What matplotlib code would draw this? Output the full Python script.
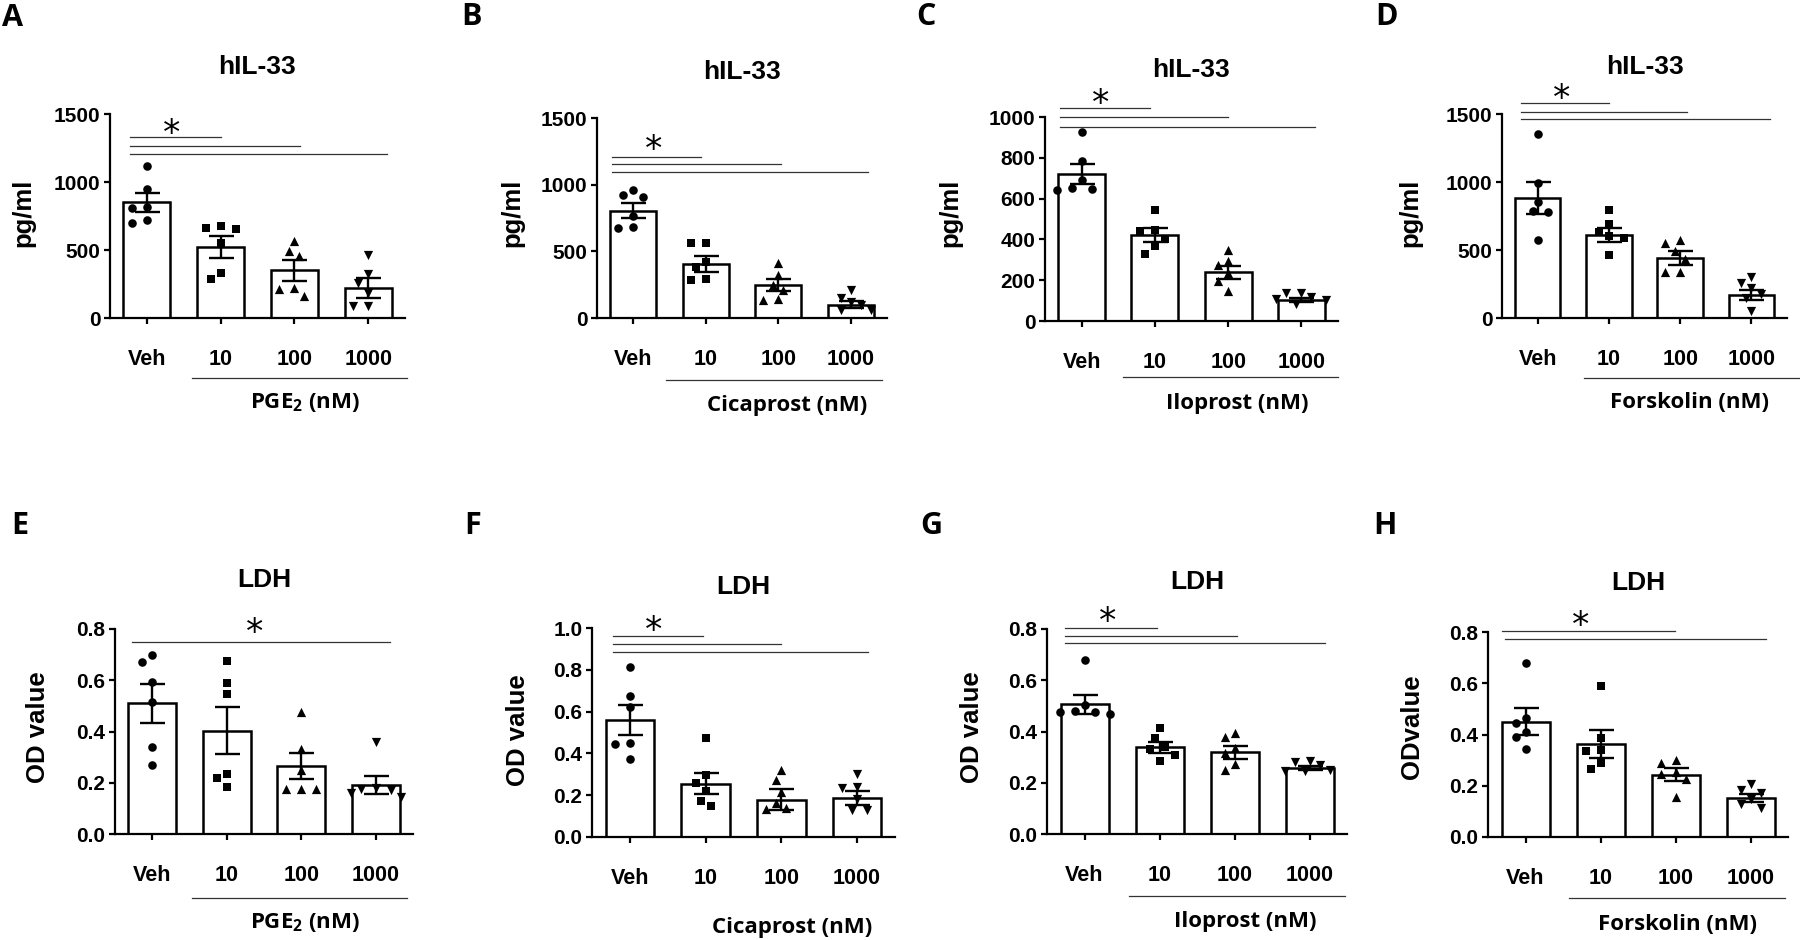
import numpy as np
import matplotlib
matplotlib.use('Agg')
import matplotlib.pyplot as plt
from matplotlib.lines import Line2D
from matplotlib.ticker import FormatStrFormatter

plt.rcParams['font.family'] = ['Liberation Sans', 'DejaVu Sans']
plt.rcParams['mathtext.fontset'] = 'custom'
plt.rcParams['mathtext.rm'] = 'Open Sans:bold'
plt.rcParams['mathtext.it'] = 'Open Sans:bold'
plt.rcParams['mathtext.bf'] = 'Open Sans:bold'

# ---------------- data ----------------
categories = ['Veh', '10', '100', '1000']
markers = ['o', 's', '^', 'v']

A_mean = [850, 522, 350, 220]
A_sem = [70, 78, 79, 72]
A_pts = [[1115, 950, 815, 810, 720, 700], [675, 660, 655, 550, 330, 285],
         [565, 490, 455, 220, 215, 165], [460, 320, 255, 185, 90, 85]]

B_mean = [805, 405, 245, 100]
B_sem = [57, 57, 45, 25]
B_pts = [[958, 925, 910, 762, 683, 675], [565, 560, 420, 380, 290, 285],
         [412, 325, 250, 212, 140, 135], [212, 150, 120, 95, 62, 60]]

C_mean = [720, 422, 239, 103]
C_sem = [50, 33, 31, 8]
C_pts = [[925, 785, 690, 650, 645, 640], [545, 445, 440, 400, 370, 330],
         [350, 295, 275, 235, 195, 145], [135, 135, 118, 110, 105, 85]]

D_mean = [881, 612, 440, 171]
D_sem = [117, 53, 50, 35]
D_pts = [[1350, 995, 855, 785, 780, 575], [795, 690, 630, 600, 585, 460],
         [570, 555, 495, 435, 335, 335], [300, 255, 220, 180, 145, 55]]

E_mean = [0.510, 0.403, 0.266, 0.192]
E_sem = [0.075, 0.092, 0.052, 0.035]
E_pts = [[0.70, 0.67, 0.595, 0.515, 0.34, 0.27], [0.675, 0.59, 0.545, 0.235, 0.22, 0.185],
         [0.475, 0.33, 0.25, 0.175, 0.175, 0.175], [0.36, 0.18, 0.175, 0.17, 0.16, 0.145]]

F_mean = [0.561, 0.255, 0.179, 0.188]
F_sem = [0.072, 0.05, 0.052, 0.033]
F_pts = [[0.815, 0.675, 0.62, 0.45, 0.445, 0.375], [0.475, 0.295, 0.26, 0.22, 0.17, 0.15],
         [0.32, 0.275, 0.215, 0.165, 0.14, 0.135], [0.30, 0.24, 0.235, 0.18, 0.13, 0.13]]

G_mean = [0.506, 0.338, 0.319, 0.257]
G_sem = [0.037, 0.02, 0.025, 0.008]
G_pts = [[0.68, 0.505, 0.48, 0.475, 0.47, 0.475], [0.415, 0.375, 0.34, 0.33, 0.31, 0.285],
         [0.395, 0.38, 0.335, 0.315, 0.275, 0.25], [0.285, 0.28, 0.27, 0.25, 0.245, 0.245]]

H_mean = [0.45, 0.363, 0.243, 0.152]
H_sem = [0.052, 0.055, 0.025, 0.015]
H_pts = [[0.68, 0.465, 0.445, 0.41, 0.39, 0.345], [0.59, 0.385, 0.34, 0.335, 0.29, 0.265],
         [0.30, 0.29, 0.255, 0.245, 0.225, 0.155], [0.205, 0.185, 0.17, 0.15, 0.13, 0.115]]

titles = ['hIL-33'] * 4 + ['LDH'] * 4
ylabels = ['pg/ml'] * 4 + ['OD value', 'OD value', 'OD value', 'ODvalue']
letters = ['A', 'B', 'C', 'D', 'E', 'F', 'G', 'H']
groups = ['PGE$_2$ (nM)', 'Cicaprost (nM)', 'Iloprost (nM)', 'Forskolin (nM)'] * 2

# ---------------- layout (pixels) ----------------
W, Hh = 1800, 940
fig = plt.figure(figsize=(18, 9.4), dpi=100)

def px(x, y):
    return x / W, 1 - y / Hh

panels = [
    dict(mean=A_mean, sem=A_sem, pts=A_pts, box=(110, 405, 114, 318), ylim=1500, yt=[0, 500, 1000, 1500], fmt='%d',
         letter=(13, 18), title_y=67, ylab=(23, 213), group=(305, 403), uline=(192, 407, 378),
         sig_x0=[-0.23] * 3, sig_x1=[1.0, 2.07, 3.25], sig_y=[1331, 1265, 1206], star=(0.34, 1404)),
    dict(mean=B_mean, sem=B_sem, pts=B_pts, box=(597, 887, 118, 318), ylim=1500, yt=[0, 500, 1000, 1500], fmt='%d',
         letter=(471, 17), title_y=72, ylab=(512, 213), group=(787, 406), uline=(666, 882, 380),
         sig_x0=[-0.3] * 3, sig_x1=[0.94, 2.04, 3.24], sig_y=[1208, 1155, 1095], star=(0.28, 1312)),
    dict(mean=C_mean, sem=C_sem, pts=C_pts, box=(1045, 1338, 117, 321), ylim=1000, yt=[0, 200, 400, 600, 800, 1000], fmt='%d',
         letter=(926, 17), title_y=70, ylab=(950, 213), group=(1237, 403), uline=(1123, 1338, 377),
         sig_x0=[-0.3] * 3, sig_x1=[0.93, 2.0, 3.18], sig_y=[1044, 1000, 951], star=(0.26, 1098)),
    dict(mean=D_mean, sem=D_sem, pts=D_pts, box=(1502, 1787, 114, 318), ylim=1500, yt=[0, 500, 1000, 1500], fmt='%d',
         letter=(1386, 17), title_y=67, ylab=(1410, 213), group=(1690, 403), uline=(1584, 1800, 378),
         sig_x0=[-0.23] * 3, sig_x1=[1.0, 2.09, 3.26], sig_y=[1581, 1515, 1463], star=(0.34, 1662)),
    dict(mean=E_mean, sem=E_sem, pts=E_pts, box=(115, 413, 629, 834), ylim=0.8, yt=[0, 0.2, 0.4, 0.6, 0.8], fmt='%.1f',
         letter=(20, 526), title_y=580, ylab=(38, 727), group=(305, 923), uline=(192, 407, 898),
         sig_x0=[-0.27], sig_x1=[3.19], sig_y=[0.75], star=(1.38, 0.81)),
    dict(mean=F_mean, sem=F_sem, pts=F_pts, box=(592, 895, 628, 837), ylim=1.0, yt=[0, 0.2, 0.4, 0.6, 0.8, 1.0], fmt='%.1f',
         letter=(473, 526), title_y=587, ylab=(518, 730), group=(792, 927), uline=None,
         sig_x0=[-0.22] * 3, sig_x1=[0.96, 2.0, 3.14], sig_y=[0.962, 0.923, 0.885], star=(0.32, 1.02)),
    dict(mean=G_mean, sem=G_sem, pts=G_pts, box=(1047, 1347, 629, 834), ylim=0.8, yt=[0, 0.2, 0.4, 0.6, 0.8], fmt='%.1f',
         letter=(931, 526), title_y=582, ylab=(972, 727), group=(1245, 922), uline=(1129, 1345, 896),
         sig_x0=[-0.26] * 3, sig_x1=[0.97, 2.03, 3.2], sig_y=[0.805, 0.773, 0.746], star=(0.31, 0.855)),
    dict(mean=H_mean, sem=H_sem, pts=H_pts, box=(1488, 1788, 632, 837), ylim=0.8, yt=[0, 0.2, 0.4, 0.6, 0.8], fmt='%.1f',
         letter=(1385, 526), title_y=583, ylab=(1412, 727), group=(1678, 925), uline=(1569, 1785, 898),
         sig_x0=[-0.31, -0.27], sig_x1=[1.99, 3.2], sig_y=[0.804, 0.773], star=(0.73, 0.85)),
]

SIG_COLOR = '#333333'
MARKER_SIZE = {'o': 38, 's': 30, '^': 44, 'v': 44}


def swarm_offsets(ax, xc, vals, dist=10.5, step=5.0):
    trans = ax.transData
    x0p = trans.transform((0, 0))[0]
    x1p = trans.transform((1, 0))[0]
    ppu = x1p - x0p
    placed = []
    offs = np.zeros(len(vals))
    order = np.argsort(vals)[::-1]
    for i in order:
        yp = trans.transform((xc, vals[i]))[1]
        chosen = 0.0
        for k in range(0, 30):
            cands = [0.0] if k == 0 else [-k * step, k * step]
            ok = None
            for c in cands:
                if all(np.hypot(c - pxo, yp - py) >= dist for pxo, py in placed):
                    ok = c
                    break
            if ok is not None:
                chosen = ok
                break
        placed.append((chosen, yp))
        offs[i] = chosen / ppu
    return offs


for i, p in enumerate(panels):
    l, r, t, b = p['box']
    ax = fig.add_axes([l / W, 1 - b / Hh, (r - l) / W, (b - t) / Hh])
    ax.set_xlim(-0.5, 3.5)
    ax.set_ylim(0, p['ylim'])
    for s in ['top', 'right']:
        ax.spines[s].set_visible(False)
    for s in ['left', 'bottom']:
        ax.spines[s].set_linewidth(1.6)
    ax.tick_params(axis='both', width=1.6, length=4, color='black')
    ax.tick_params(axis='y', labelsize=15, pad=3)
    ax.tick_params(axis='x', labelsize=15.5, pad=18)
    ax.set_yticks(p['yt'])
    ax.yaxis.set_major_formatter(FormatStrFormatter(p['fmt']))
    ax.set_xticks(range(4), categories)
    for lab in ax.get_xticklabels() + ax.get_yticklabels():
        lab.set_fontweight('bold')
    xs = np.arange(4)
    ax.bar(xs, p['mean'], width=0.64, color='white', edgecolor='black', linewidth=1.8, zorder=2)
    for k in range(4):
        vals = np.array(p['pts'][k], dtype=float)
        offs = swarm_offsets(ax, k, vals)
        ax.scatter(k + offs, vals, marker=markers[k], s=MARKER_SIZE[markers[k]],
                   color='black', linewidths=0, zorder=3, clip_on=False)
    ax.errorbar(xs, p['mean'], yerr=p['sem'], fmt='none', ecolor='black', elinewidth=1.7,
                capsize=9, capthick=1.7, zorder=4)
    for x0, x1, y in zip(p['sig_x0'], p['sig_x1'], p['sig_y']):
        ax.plot([x0, x1], [y, y], color=SIG_COLOR, lw=0.9, clip_on=False, zorder=5)
    ax.annotate('*', p['star'], xytext=(0, -5), textcoords='offset points',
                ha='center', va='center', fontsize=25, family='DejaVu Sans', color='black',
                annotation_clip=False)

    cx = (l + r) / 2
    fig.text(*px(cx, p['title_y']), titles[i], ha='center', va='center', fontsize=19, fontweight='bold')
    fig.text(*px(*p['ylab']), ylabels[i], ha='center', va='center', rotation=90, fontsize=18.5, fontweight='bold')
    fig.text(*px(*p['letter']), letters[i], ha='center', va='center', fontsize=22, fontweight='bold',
             family='Open Sans')
    fig.text(*px(*p['group']), groups[i], ha='center', va='center', fontsize=16, fontweight='bold',
             family='Open Sans')
    if p['uline'] is not None:
        ux0, ux1, uy = p['uline']
        fig.add_artist(Line2D([ux0 / W, ux1 / W], [1 - uy / Hh, 1 - uy / Hh], color=SIG_COLOR, lw=0.9))

fig.savefig('out.png', dpi=100, facecolor='white')
